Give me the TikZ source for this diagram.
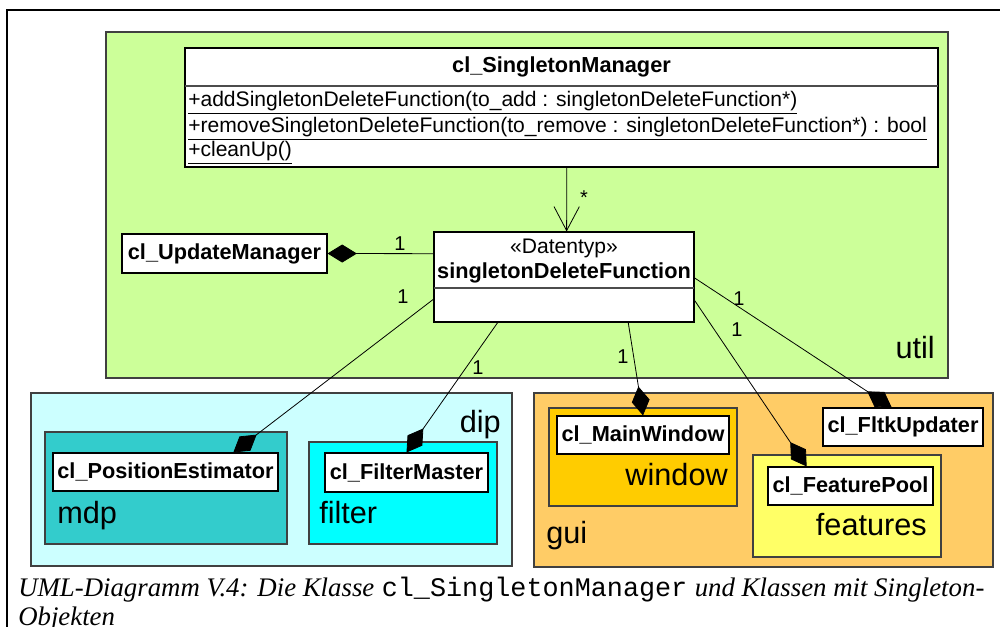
\documentclass[tikz,border=0pt]{standalone}
\usepackage{fontspec}
\setmainfont{Liberation Sans}
\newfontfamily\capserif{Liberation Serif}
\newfontfamily\capmono{Liberation Mono}
\usepackage{tikz}
\usetikzlibrary{arrows.meta,calc}
\usepackage{xcolor}
\definecolor{utilgreen}{HTML}{CCFF99}
\definecolor{dipcyan}{HTML}{CCFFFF}
\definecolor{mdpteal}{HTML}{33CCCC}
\definecolor{filtercyan}{HTML}{00FFFF}
\definecolor{guiorange}{HTML}{FFCC66}
\definecolor{winorange}{HTML}{FFCC00}
\definecolor{featyellow}{HTML}{FFFF66}
\tikzset{
  frame/.style={draw, line width=1pt},
  pkg/.style={draw=black!75, line width=0.9pt},
  pkglab/.style={font=\fontsize{23}{26}\selectfont, inner sep=0pt},
  cls/.style={draw, fill=white, line width=0.8pt, inner sep=0pt, font=\fontsize{16.3}{19}\selectfont\bfseries},
  clsname/.style={font=\fontsize{16.3}{19}\selectfont\bfseries, inner sep=0pt},
  stereo/.style={font=\fontsize{15.8}{19}\selectfont, inner sep=0pt},
  meth/.style={font=\fontsize{15.8}{19}\selectfont, anchor=base west, inner sep=0pt},
  mult/.style={font=\fontsize{15}{18}\selectfont, inner sep=0pt},
  capt/.style={font=\fontsize{20.1}{22}\selectfont, anchor=base west, inner sep=0pt},
  comp/.style={-{Diamond[length=22pt, width=13.5pt]}, line width=0.6pt},
  nav/.style={-{Straight Barb[length=18pt, width=19pt, line width=0.6pt]}, line width=0.6pt}
}
\begin{document}
\begin{tikzpicture}[x=0.75pt,y=-0.75pt]
\useasboundingbox (0,0) rectangle (1005,627);
% Frame
\draw[frame] (7,627) -- (7,10) -- (1000,10);

% util package
\draw[pkg, fill=utilgreen] (106,32) rectangle (948,378);
\node[pkglab, anchor=base east] (utillab) at (935,358) {util};

% dip package
\draw[pkg, fill=dipcyan] (31,393) rectangle (512,566);
\node[pkglab, anchor=base east] (diplab) at (501,432) {dip};
\draw[pkg, fill=mdpteal] (45,432) rectangle (287,544);
\node[pkglab, anchor=base west] (mdplab) at (57,523) {mdp};
\draw[pkg, fill=filtercyan] (309,442) rectangle (497,544);
\node[pkglab, anchor=base west] (filterlab) at (319,523) {filter};

% gui package
\draw[pkg, fill=guiorange] (534,393) rectangle (993,567);
\node[pkglab, anchor=base west] (guilab) at (546,543) {gui};
\draw[pkg, fill=winorange] (549,408) rectangle (737,506);
\node[pkglab, anchor=base east] (winlab) at (728,485) {window};
\draw[pkg, fill=featyellow] (753,455) rectangle (941,557);
\node[pkglab, anchor=base east] (featlab) at (927,535) {features};

% cl_SingletonManager
\node[cls, minimum width=564.75pt, minimum height=89.25pt] (sm) at (561.5,107.5) {};
\draw[line width=0.8pt, black!70] (185,86) -- (938,86);
\node[clsname] (smname) at (561.5,67) {cl\_SingletonManager};
\node[meth] (m1) at (188,107) {\underline{+addSingletonDeleteFunction(to\_add : singletonDeleteFunction*)}};
\node[meth] (m2) at (188,133) {\underline{+removeSingletonDeleteFunction(to\_remove : singletonDeleteFunction*) : bool}};
\node[meth] (m3) at (188,157) {\underline{+cleanUp()}};

% singletonDeleteFunction
\node[cls, minimum width=195pt, minimum height=67.5pt] (sdf) at (564,277) {};
\draw[line width=0.8pt, black!70] (434,288) -- (694,288);
\node[stereo, anchor=base] (sdfst) at (564,253) {«Datentyp»};
\node[clsname, anchor=base] (sdfname) at (564,278) {singletonDeleteFunction};

% other classes
\node[cls, minimum width=153.75pt, minimum height=29.25pt] (um) at (224.5,253.5) {cl\_UpdateManager};
\node[cls, minimum width=168.75pt, minimum height=28.5pt] (pe) at (165.5,472) {cl\_PositionEstimator};
\node[cls, minimum width=122.25pt, minimum height=29.25pt] (fm) at (406.5,472.5) {cl\_FilterMaster};
\node[cls, minimum width=129pt, minimum height=28.5pt] (mw) at (643,435) {cl\_MainWindow};
\node[cls, minimum width=120pt, minimum height=28.5pt] (fu) at (903,427) {cl\_FltkUpdater};
\node[cls, minimum width=123.75pt, minimum height=28.5pt] (fp) at (850.5,486) {cl\_FeaturePool};

% Connectors
\draw[nav] ($(sm.south west)!0.507!(sm.south east)$) -- ($(sdf.north west)!0.51!(sdf.north east)$);
\node[mult] (mstar) at (584,198) {*};
\draw[comp] ($(sdf.north west)!0.244!(sdf.south west)$) -- (um.east);
\node[mult] (mum) at (400,244) {1};
\draw[comp] ($(sdf.north west)!0.744!(sdf.south west)$) -- ($(pe.north west)!0.8!(pe.north east)$);
\node[mult] (mpe) at (403,297) {1};
\draw[comp] ($(sdf.south west)!0.246!(sdf.south east)$) -- (fm.north);
\node[mult] (mfm) at (478,368) {1};
\draw[comp] ($(sdf.south west)!0.746!(sdf.south east)$) -- (mw.north);
\node[mult] (mmw) at (623,357) {1};
\draw[comp] ($(sdf.north east)!0.756!(sdf.south east)$) -- ($(fp.north west)!0.236!(fp.north east)$);
\node[mult] (mfp) at (737,330) {1};
\draw[comp] ($(sdf.north east)!0.51!(sdf.south east)$) -- ($(fu.north west)!0.43!(fu.north east)$);
\node[mult] (mfu) at (739,299) {1};

% Caption
\node[capt] (cap1) at (18,596)
  {{\capserif\itshape UML-Diagramm V.4: Die Klasse} {\capmono cl\_SingletonManager} {\capserif\itshape und Klassen mit Singleton-}};
\node[capt] (cap2) at (18,625) {\capserif\itshape Objekten};
\end{tikzpicture}
\end{document}
